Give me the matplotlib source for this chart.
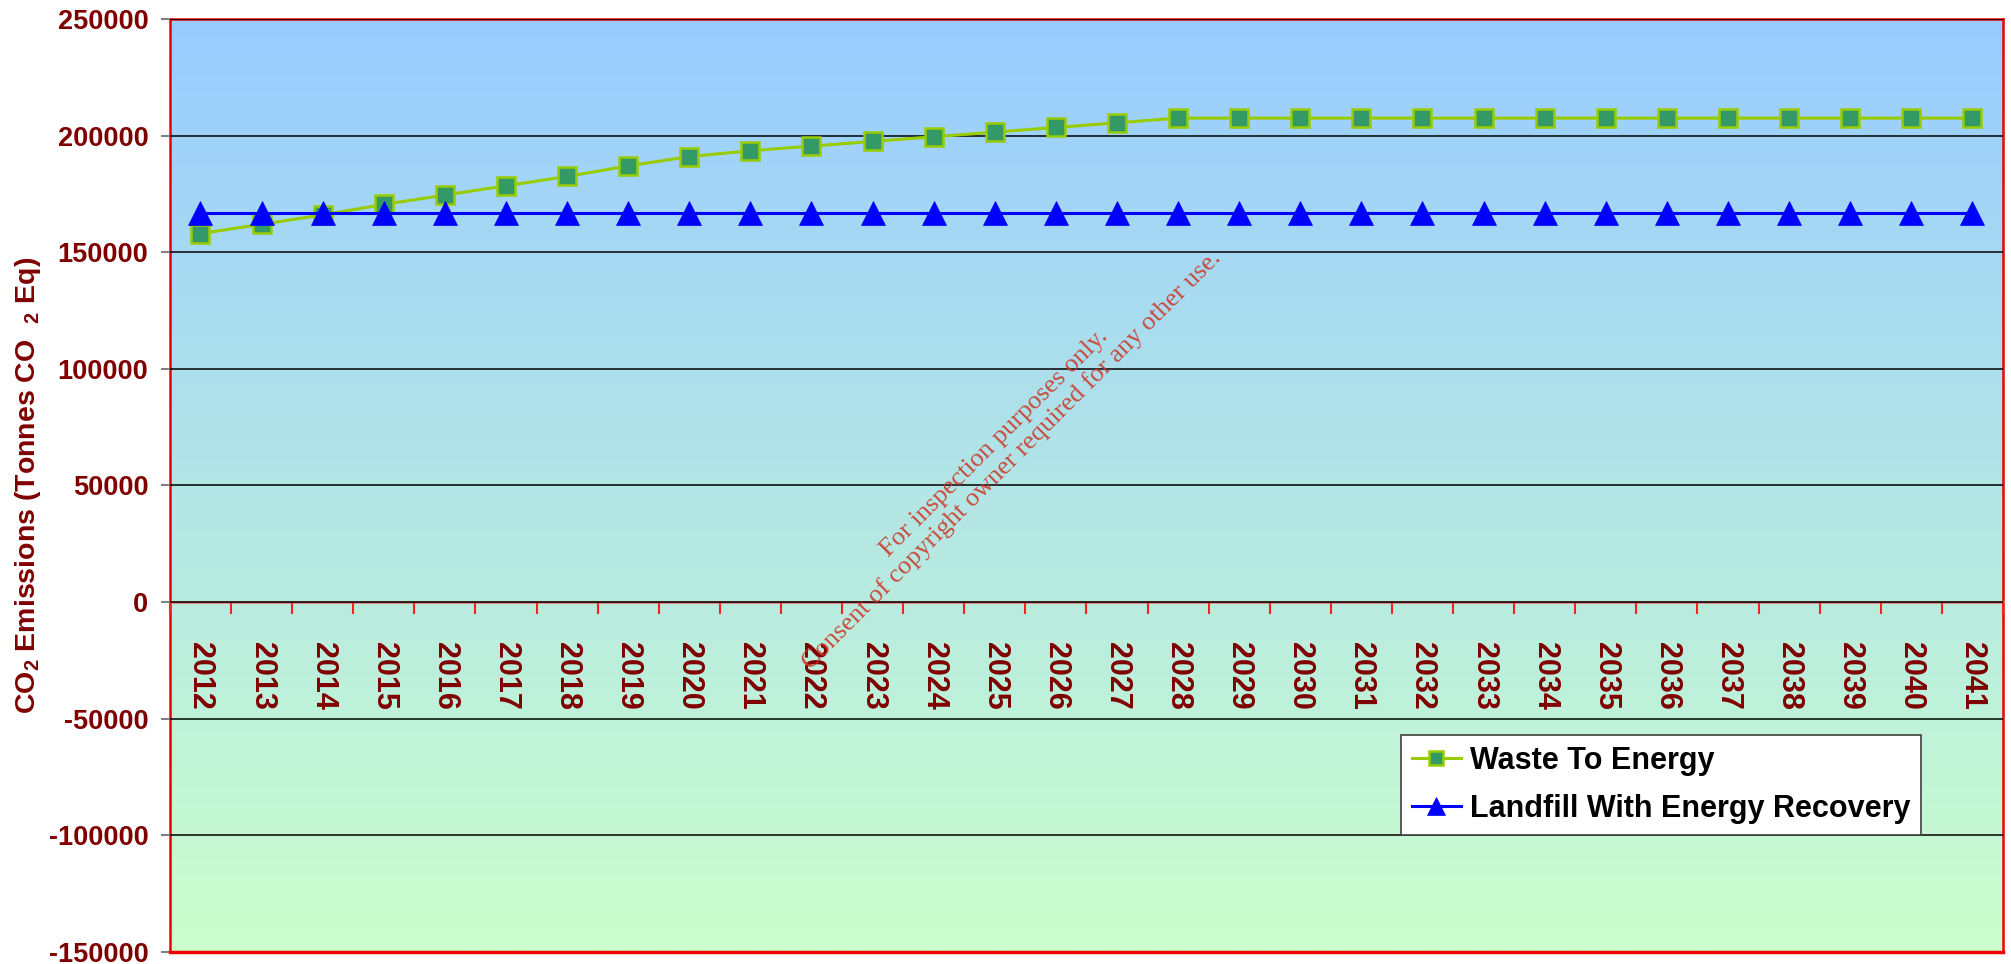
import numpy as np
import matplotlib
matplotlib.use("Agg")
import matplotlib.pyplot as plt

plt.rcParams['font.family'] = ['Liberation Sans', 'DejaVu Sans']
plt.rcParams['font.weight'] = 'bold'
plt.rcParams['mathtext.fontset'] = 'custom'
plt.rcParams['mathtext.rm'] = 'Liberation Sans:bold'
plt.rcParams['mathtext.it'] = 'Liberation Sans:bold'
plt.rcParams['mathtext.bf'] = 'Liberation Sans:bold'

# dados
anos = [str(a) for a in range(2012, 2042)]
waste_to_energy = [158000, 162000, 166000, 170500, 174500, 178500, 182500,
                   187000, 191000, 193500, 195500, 197500, 199500, 201500,
                   203500, 205500] + [207500] * 14
landfill = [167000] * 30
y_ticks = [-150000, -100000, -50000, 0, 50000, 100000, 150000, 200000, 250000]

vermelho_escuro = '#800000'

fig = plt.figure(figsize=(20.11, 9.64), dpi=100)
ax = fig.add_axes([0.0845, 0.01245, 0.9115, 0.96785])

x = np.arange(len(anos))
ax.set_xlim(-0.5, len(anos) - 0.5)
ax.set_ylim(-150000, 250000)

# fundo em degrade azul -> verde
topo = np.array([153, 204, 255]) / 255
base = np.array([204, 255, 204]) / 255
grad = np.linspace(0, 1, 256)[:, None]
cores = topo[None, :] * (1 - grad) + base[None, :] * grad
ax.imshow(cores[:, None, :], extent=[-0.5, len(anos) - 0.5, -150000, 250000],
          aspect='auto', interpolation='bilinear', zorder=0)

# linhas de grade
ax.set_yticks(y_ticks)
ax.set_yticklabels([str(v) for v in y_ticks])
ax.yaxis.grid(True, color='black', linewidth=1.1, zorder=1)
ax.set_axisbelow(False)

ax.plot(x, waste_to_energy, color='#99cc00', linewidth=2.2, marker='s',
        markersize=13.5, markerfacecolor='#339966', markeredgecolor='#99cc00',
        markeredgewidth=1.8, label='Waste To Energy', zorder=3)
ax.plot(x, landfill, color='#0000ff', linewidth=2.2, marker='^',
        markersize=17.5, markerfacecolor='#0000ff', markeredgecolor='#0000ff',
        markeredgewidth=0.5, label='Landfill With Energy Recovery', zorder=4)

# eixo x cruzando no zero
for lado in ['top', 'right', 'left']:
    ax.spines[lado].set_color('#ee0000')
    ax.spines[lado].set_linewidth(1.8)
ax.spines['bottom'].set_position(('data', 0))
ax.spines['bottom'].set_color('#e86a6a')
ax.spines['bottom'].set_linewidth(1.8)
ax.axhline(-150000, color='#ee0000', linewidth=2.5, clip_on=False, zorder=5)

ax.set_xticks(np.arange(-0.5, len(anos), 1.0))
ax.set_xticklabels([])
ax.tick_params(axis='x', which='major', direction='out', length=8.5,
               width=1.5, color='#ff2020')
ax.set_xticks(x, minor=True)
ax.set_xticklabels(anos, minor=True, rotation=270, fontsize=22,
                   fontweight='bold', color=vermelho_escuro, va='top')
ax.tick_params(axis='x', which='minor', length=0, pad=29)

ax.tick_params(axis='y', direction='out', length=6.5, width=1.5,
               color='#808080', pad=9, labelsize=19.5, labelcolor=vermelho_escuro)
for t in ax.get_yticklabels():
    t.set_fontweight('bold')

ax.set_ylabel('CO$_2$ Emissions (Tonnes CO  $_2$ Eq)', fontsize=20.5,
              fontweight='bold', color=vermelho_escuro, va='center')
ax.yaxis.set_label_coords(-0.0775, 0.5)

leg = ax.legend(loc='upper left', bbox_to_anchor=(0.6716, 0.2326),
                borderaxespad=0, fancybox=False, framealpha=1,
                edgecolor='#404040', fontsize=22, markerscale=0.7,
                handlelength=1.6, handletextpad=0.3, labelspacing=0.6,
                borderpad=0.35)
leg.get_frame().set_linewidth(1.2)
for t in leg.get_texts():
    t.set_fontweight('bold')

# marca d'agua
fig.text(0.499, 0.531,
         'For inspection purposes only.\n'
         'Consent of copyright owner required for any other use.',
         rotation=45, ha='center', va='center', multialignment='center',
         family='Liberation Serif', fontsize=19, color='#cc3a2a',
         alpha=0.9, linespacing=1.1, fontweight='normal')

plt.savefig('out.png', dpi=100)
